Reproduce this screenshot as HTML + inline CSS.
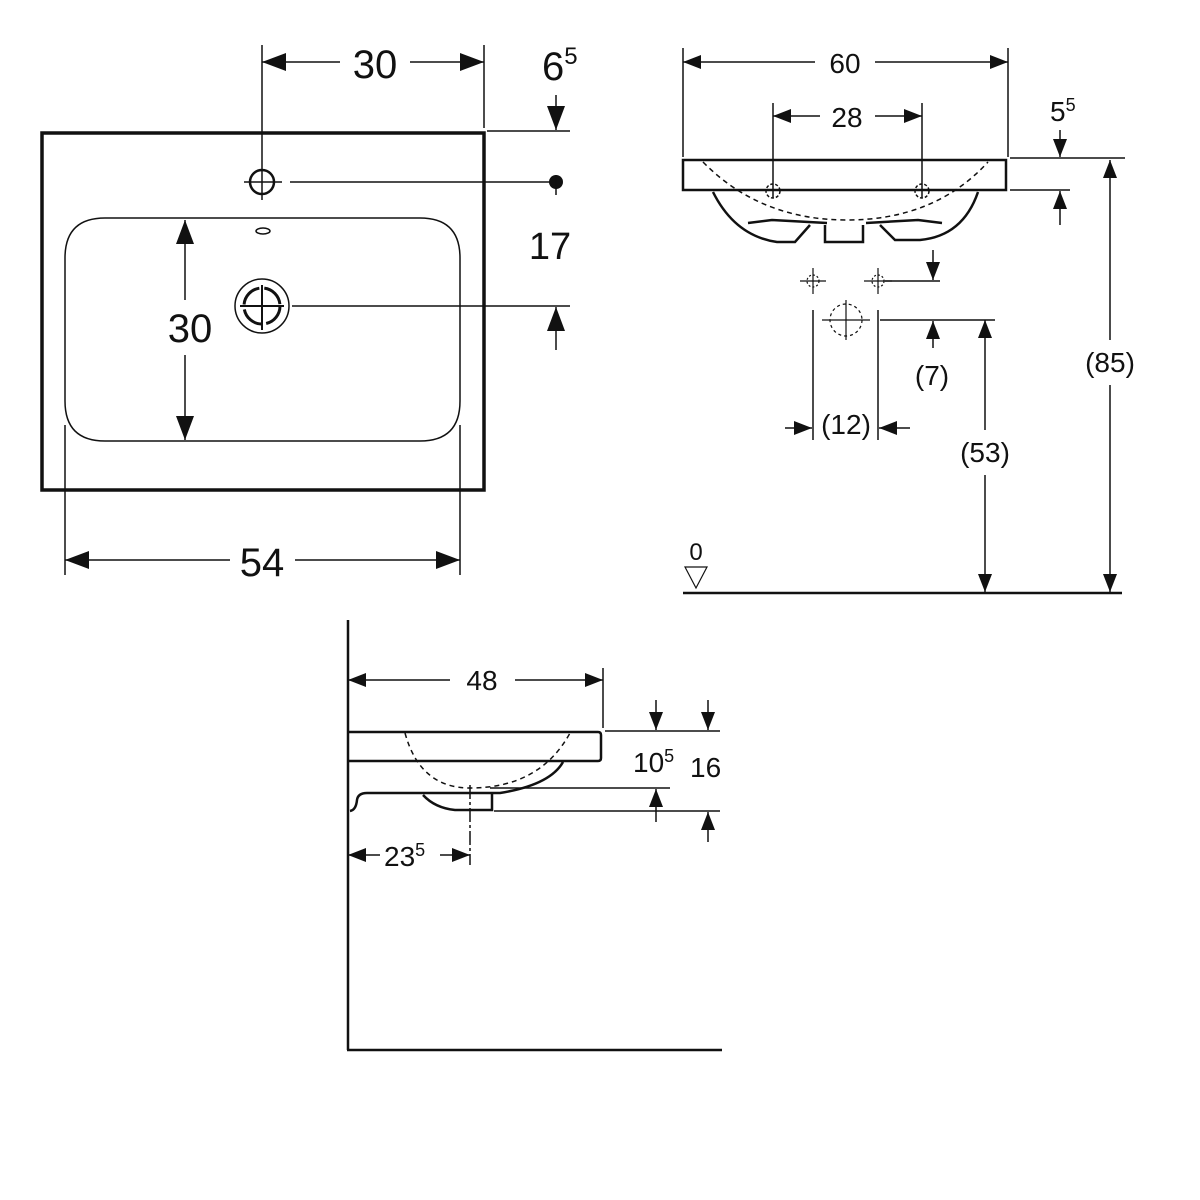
<!DOCTYPE html>
<html><head><meta charset="utf-8"><style>
html,body{margin:0;padding:0;background:#fff}
svg{display:block}
text{font-family:"Liberation Sans",sans-serif;fill:#111}
</style></head><body>
<svg width="1200" height="1200" viewBox="0 0 1200 1200" xmlns="http://www.w3.org/2000/svg">
<defs>
<marker id="A" viewBox="0 0 24 18" refX="24" refY="9" markerWidth="24" markerHeight="18" markerUnits="userSpaceOnUse" orient="auto-start-reverse"><path d="M0,0 L24,9 L0,18 Z" fill="#111"/></marker>
<marker id="a" viewBox="0 0 18 14" refX="18" refY="7" markerWidth="18" markerHeight="14" markerUnits="userSpaceOnUse" orient="auto-start-reverse"><path d="M0,0 L18,7 L0,14 Z" fill="#111"/></marker>
</defs>
<g stroke="#111" fill="none" stroke-width="1.5">
<!-- TOP VIEW -->
<rect x="42" y="133" width="442" height="357" stroke-width="3.5"/>
<path d="M105,218 H420 Q460,218 460,258 V401 Q460,441 420,441 H105 Q65,441 65,401 V258 Q65,218 105,218 Z"/>
<ellipse cx="263" cy="231" rx="7" ry="3"/>
<circle cx="262" cy="182" r="12" stroke-width="2.5"/>
<line x1="262" y1="45" x2="262" y2="200"/>
<line x1="244" y1="182" x2="282" y2="182"/>
<line x1="290" y1="182" x2="552" y2="182"/>
<circle cx="556" cy="182" r="7" fill="#111" stroke="none"/>
<line x1="556" y1="175" x2="556" y2="195"/>
<circle cx="262" cy="306" r="27"/>
<circle cx="262" cy="306" r="18" stroke-width="3" stroke-dasharray="24 5"/>
<line x1="262" y1="285" x2="262" y2="330" stroke-width="2"/>
<line x1="240" y1="306" x2="284" y2="306" stroke-width="2"/>
<line x1="292" y1="306" x2="570" y2="306"/>
<line x1="484" y1="45" x2="484" y2="128"/>
<line x1="487" y1="131" x2="570" y2="131"/>
<line x1="262" y1="62" x2="340" y2="62" marker-start="url(#A)"/>
<line x1="410" y1="62" x2="484" y2="62" marker-end="url(#A)"/>
<line x1="556" y1="95" x2="556" y2="130" marker-end="url(#A)"/>
<line x1="556" y1="350" x2="556" y2="307" marker-end="url(#A)"/>
<line x1="185" y1="220" x2="185" y2="300" marker-start="url(#A)"/>
<line x1="185" y1="355" x2="185" y2="440" marker-end="url(#A)"/>
<line x1="65" y1="425" x2="65" y2="575"/>
<line x1="460" y1="425" x2="460" y2="575"/>
<line x1="65" y1="560" x2="230" y2="560" marker-start="url(#A)"/>
<line x1="295" y1="560" x2="460" y2="560" marker-end="url(#A)"/>

<!-- FRONT VIEW -->
<path d="M683,160 H1006 V190 H683 Z" stroke-width="2.5"/>
<path d="M713,192 Q735,236 777,242 H795 L810,225 M748,223 L772,220 L827,223 M825,225 V242 H863 V225 M866,223 L918,220 L942,223 M880,225 L895,240 H920 Q963,236 978,192" stroke-width="2.5"/>
<path d="M703,162 Q760,220 847,220 Q935,220 988,162" stroke-dasharray="5 4"/>
<line x1="683" y1="48" x2="683" y2="157"/>
<line x1="1008" y1="48" x2="1008" y2="157"/>
<line x1="683" y1="62" x2="815" y2="62" marker-start="url(#a)"/>
<line x1="875" y1="62" x2="1008" y2="62" marker-end="url(#a)"/>
<line x1="773" y1="103" x2="773" y2="198"/>
<line x1="922" y1="103" x2="922" y2="198"/>
<line x1="773" y1="116" x2="820" y2="116" marker-start="url(#a)"/>
<line x1="875" y1="116" x2="922" y2="116" marker-end="url(#a)"/>
<circle cx="773" cy="191" r="7" stroke-dasharray="3 2"/>
<circle cx="922" cy="191" r="7" stroke-dasharray="3 2"/>
<line x1="1010" y1="158" x2="1125" y2="158"/>
<line x1="1010" y1="190" x2="1070" y2="190"/>
<line x1="1060" y1="130" x2="1060" y2="157" marker-end="url(#a)"/>
<line x1="1060" y1="225" x2="1060" y2="191" marker-end="url(#a)"/>
<line x1="1110" y1="160" x2="1110" y2="340" marker-start="url(#a)"/>
<line x1="1110" y1="385" x2="1110" y2="592" marker-end="url(#a)"/>
<line x1="985" y1="320" x2="985" y2="430" marker-start="url(#a)"/>
<line x1="985" y1="475" x2="985" y2="592" marker-end="url(#a)"/>
<line x1="880" y1="320" x2="995" y2="320"/>
<line x1="885" y1="281" x2="940" y2="281"/>
<line x1="933" y1="250" x2="933" y2="280" marker-end="url(#a)"/>
<line x1="933" y1="348" x2="933" y2="321" marker-end="url(#a)"/>
<g stroke-width="1.2"><line x1="800" y1="281" x2="826" y2="281"/><line x1="813" y1="268" x2="813" y2="294"/><circle cx="813" cy="281" r="6" stroke-dasharray="2 2"/>
<line x1="864" y1="281" x2="892" y2="281"/><line x1="878" y1="268" x2="878" y2="294"/><circle cx="878" cy="281" r="6" stroke-dasharray="2 2"/>
<circle cx="846" cy="320" r="16" stroke-dasharray="3 3"/><line x1="822" y1="320" x2="870" y2="320"/><line x1="846" y1="300" x2="846" y2="340"/></g>
<line x1="813" y1="310" x2="813" y2="440"/>
<line x1="878" y1="310" x2="878" y2="440"/>
<line x1="785" y1="428" x2="812" y2="428" marker-end="url(#a)"/>
<line x1="910" y1="428" x2="879" y2="428" marker-end="url(#a)"/>
<line x1="683" y1="593" x2="1122" y2="593" stroke-width="2.5"/>
<path d="M685,567 H707 L696,588 Z" stroke-width="1.2"/>

<!-- SIDE VIEW -->
<line x1="348" y1="620" x2="348" y2="1050" stroke-width="2.5"/>
<line x1="347" y1="1050" x2="722" y2="1050" stroke-width="2.5"/>
<path d="M348,732 H598 Q601,732 601,735 V758 Q601,761 598,761 H348" stroke-width="2.5"/>
<path d="M563,762 Q550,785 500,793 H367 Q358,793 357,800 Q356,810 350,811 M423,795 Q435,808 455,810 H492 V794" stroke-width="2.5"/>
<path d="M405,733 Q420,788 470,788 Q540,788 570,733" stroke-dasharray="5 4"/>
<line x1="470" y1="785" x2="470" y2="865" stroke-dasharray="14 3 3 3"/>
<line x1="603" y1="668" x2="603" y2="728"/>
<line x1="348" y1="680" x2="450" y2="680" marker-start="url(#a)"/>
<line x1="515" y1="680" x2="603" y2="680" marker-end="url(#a)"/>
<line x1="605" y1="731" x2="720" y2="731"/>
<line x1="490" y1="788" x2="670" y2="788"/>
<line x1="494" y1="811" x2="720" y2="811"/>
<line x1="656" y1="700" x2="656" y2="730" marker-end="url(#a)"/>
<line x1="656" y1="822" x2="656" y2="789" marker-end="url(#a)"/>
<line x1="708" y1="700" x2="708" y2="730" marker-end="url(#a)"/>
<line x1="708" y1="842" x2="708" y2="812" marker-end="url(#a)"/>
<line x1="348" y1="855" x2="380" y2="855" marker-start="url(#a)"/>
<line x1="440" y1="855" x2="470" y2="855" marker-end="url(#a)"/>
</g>
<g font-size="40">
<text x="375" y="78" text-anchor="middle">30</text>
<text x="542" y="80">6<tspan font-size="24" dy="-16">5</tspan></text>
<text x="550" y="259" text-anchor="middle" font-size="38">17</text>
<text x="190" y="342" text-anchor="middle">30</text>
<text x="262" y="576" text-anchor="middle">54</text>
</g>
<g font-size="28">
<text x="845" y="73" text-anchor="middle">60</text>
<text x="847" y="127" text-anchor="middle">28</text>
<text x="1050" y="121">5<tspan font-size="18" dy="-10">5</tspan></text>
<text x="1110" y="372" text-anchor="middle">(85)</text>
<text x="985" y="462" text-anchor="middle">(53)</text>
<text x="932" y="385" text-anchor="middle">(7)</text>
<text x="846" y="434" text-anchor="middle">(12)</text>
<text x="696" y="560" text-anchor="middle" font-size="24">0</text>
<text x="482" y="690" text-anchor="middle">48</text>
<text x="633" y="772">10<tspan font-size="18" dy="-10">5</tspan></text>
<text x="690" y="777">16</text>
<text x="384" y="866">23<tspan font-size="18" dy="-10">5</tspan></text>
</g>
</svg>
</body></html>
